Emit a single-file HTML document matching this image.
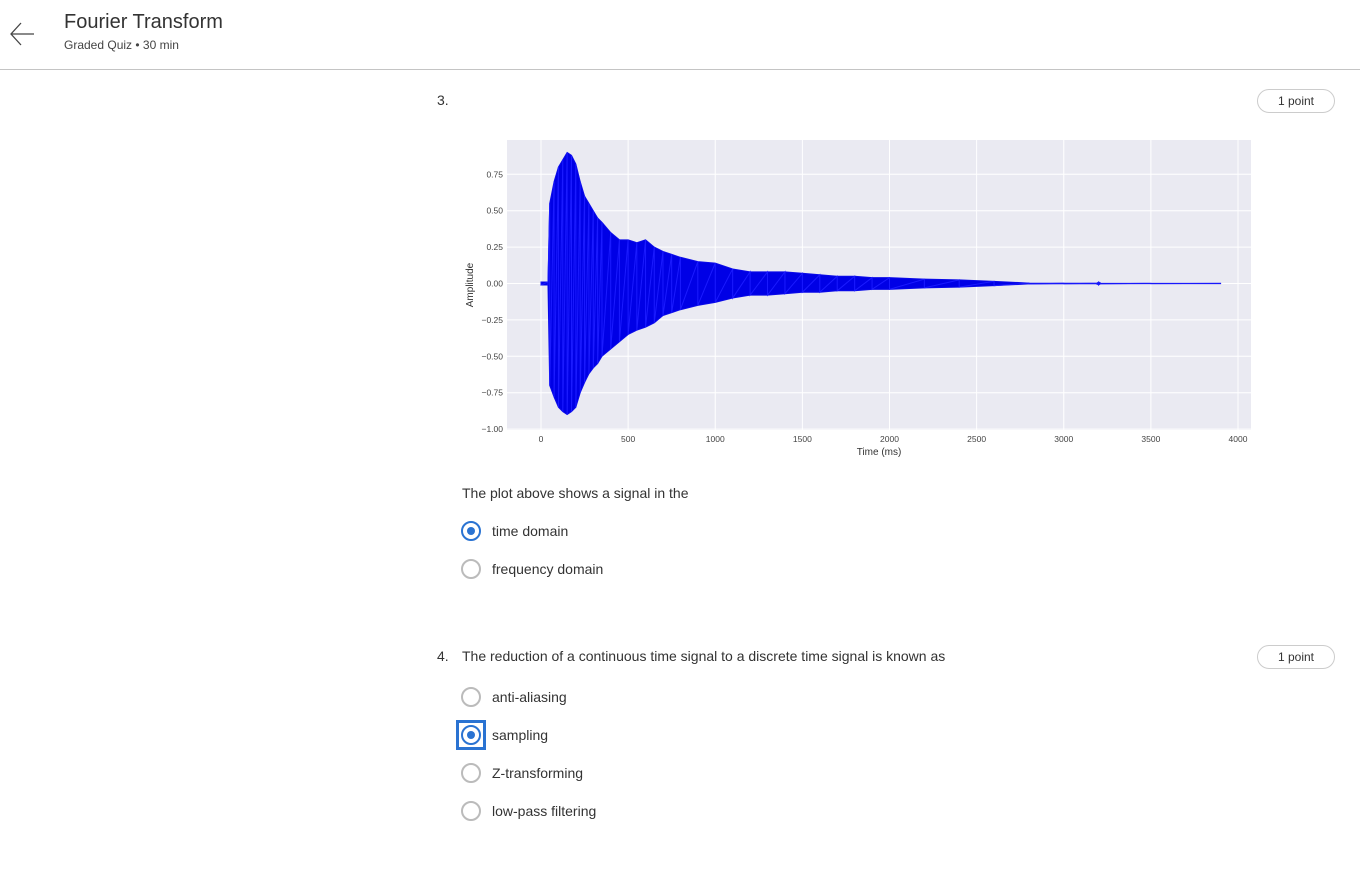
<!DOCTYPE html>
<html><head><meta charset="utf-8"><style>
body{margin:0;width:1360px;height:870px;background:#fff;font-family:"Liberation Sans",sans-serif;color:#333;position:relative;overflow:hidden}
.a{position:absolute}
.radio{position:absolute;width:16px;height:16px;border:2px solid #bbb;border-radius:50%;box-sizing:content-box}
.radio.on{border-color:#2a73d2}
.radio.on::after{content:"";position:absolute;left:4px;top:4px;width:8px;height:8px;border-radius:50%;background:#2a73d2}
.opt{position:absolute;font-size:14px;color:#333}
.pill{position:absolute;width:76px;height:22px;border:1px solid #ccc;border-radius:12px;font-size:12px;text-align:center;line-height:22px;color:#333}
</style></head><body>
<div class="a" style="left:8px;top:20px;width:28px;height:28px">
<svg width="28" height="28"><path d="M26 14H3M13 3L3 14L13 25" fill="none" stroke="#444" stroke-width="1.3"/></svg></div>
<div class="a" style="left:64px;top:11px;font-size:20px;color:#333">Fourier Transform</div>
<div class="a" style="left:64px;top:38px;font-size:12px;color:#444">Graded Quiz • 30 min</div>
<div class="a" style="left:0;top:69px;width:1360px;height:1px;background:#c4c4c4"></div>

<div class="a" style="left:437px;top:92px;font-size:14px">3.</div>
<div class="pill" style="left:1257px;top:89px">1 point</div>

<svg class="a" style="left:455px;top:135px" width="800" height="330" id="chart"></svg>

<div class="opt" style="left:462px;top:485px">The plot above shows a signal in the</div>
<div class="radio on" style="left:461px;top:521px"></div>
<div class="opt" style="left:492px;top:523px">time domain</div>
<div class="radio" style="left:461px;top:559px"></div>
<div class="opt" style="left:492px;top:561px">frequency domain</div>

<div class="a" style="left:437px;top:648px;font-size:14px">4.</div>
<div class="opt" style="left:462px;top:648px">The reduction of a continuous time signal to a discrete time signal is known as</div>
<div class="pill" style="left:1257px;top:645px">1 point</div>
<div class="radio" style="left:461px;top:687px"></div>
<div class="opt" style="left:492px;top:689px">anti-aliasing</div>
<div class="a" style="left:456px;top:720px;width:24px;height:24px;border:3px solid #2a73d2"></div>
<div class="radio on" style="left:461px;top:725px"></div>
<div class="opt" style="left:492px;top:727px">sampling</div>
<div class="radio" style="left:461px;top:763px"></div>
<div class="opt" style="left:492px;top:765px">Z-transforming</div>
<div class="radio" style="left:461px;top:801px"></div>
<div class="opt" style="left:492px;top:803px">low-pass filtering</div>

<script>
const times=[0,40,50,75,100,125,150,175,200,225,250,275,300,325,350,400,450,500,550,600,650,700,750,800,900,1000,1100,1200,1300,1400,1500,1600,1700,1800,1900,2000,2200,2400,2600,2800,3000,3190,3200,3210,3500,3900];
const upper=[0.01,0.01,0.55,0.7,0.8,0.85,0.9,0.88,0.82,0.7,0.6,0.55,0.5,0.45,0.42,0.35,0.3,0.3,0.28,0.3,0.25,0.22,0.2,0.18,0.15,0.14,0.1,0.08,0.08,0.08,0.07,0.06,0.05,0.05,0.04,0.04,0.03,0.025,0.015,0.003,0.002,0.002,0.01,0.002,0.001,0.001];
const lower=[-0.01,-0.01,-0.7,-0.78,-0.85,-0.88,-0.9,-0.88,-0.85,-0.75,-0.68,-0.62,-0.58,-0.55,-0.5,-0.45,-0.4,-0.35,-0.32,-0.3,-0.27,-0.22,-0.2,-0.18,-0.15,-0.13,-0.1,-0.08,-0.08,-0.07,-0.06,-0.06,-0.05,-0.05,-0.04,-0.04,-0.03,-0.025,-0.015,-0.003,-0.002,-0.002,-0.01,-0.002,-0.001,-0.001];
const xTicks=[0,500,1000,1500,2000,2500,3000,3500,4000];
const yTicks=[0.75,0.5,0.25,0,-0.25,-0.5,-0.75,-1.0];
const yLabels=["0.75","0.50","0.25","0.00","\u22120.25","\u22120.50","\u22120.75","\u22121.00"];
const NS="http://www.w3.org/2000/svg";
const svg=document.getElementById('chart');
const X=v=>86+v*697/4000, Y=v=>148.5-v*145.6;
function mk(t,a){const e=document.createElementNS(NS,t);for(const k in a)e.setAttribute(k,a[k]);svg.appendChild(e);return e;}
const bg=mk('rect',{x:52,y:5,width:744,height:290,fill:'#eaeaf2'});


xTicks.forEach(t=>{
 const l=mk('line',{x1:X(t),x2:X(t),y1:5,y2:295,stroke:'#fff','stroke-width':1});
 
 
 const tx=mk('text',{x:X(t),y:307,'font-size':8.5,'text-anchor':'middle',fill:'#444','font-family':'Liberation Sans, sans-serif'});
 tx.textContent=t;
 
 
});
yTicks.forEach((t,i)=>{
 const l=mk('line',{x1:52,x2:796,y1:Y(t),y2:Y(t),stroke:'#fff','stroke-width':1});
 
 
 const tx=mk('text',{x:48,y:Y(t)+3,'font-size':8.5,'text-anchor':'end',fill:'#444','font-family':'Liberation Sans, sans-serif'});
 tx.textContent=yLabels[i];
 
 
});
let poly=times.map((t,i)=>X(t)+','+Y(upper[i])).join(' ')+' '+times.map((t,i)=>X(t)+','+Y(lower[i])).reverse().join(' ');
const band=mk('polygon',{points:poly,fill:'#0000e6',stroke:'#0a0ae8','stroke-width':1});


let d='';times.forEach((t,i)=>{d+=(i?'L':'M')+X(t)+' '+Y(upper[i])+'L'+X(t)+' '+Y(lower[i]);});
const sig=mk('path',{d:d,fill:'none',stroke:'#1a1aff','stroke-width':1});


const xt=mk('text',{x:424,y:320,'font-size':10,'text-anchor':'middle',fill:'#333','font-family':'Liberation Sans, sans-serif'});
xt.textContent='Time (ms)';


const yt=mk('text',{x:0,y:0,'font-size':10,'text-anchor':'middle',fill:'#333','font-family':'Liberation Sans, sans-serif',transform:'translate(18,150) rotate(-90)'});
yt.textContent='Amplitude';


</script>
</body></html>
